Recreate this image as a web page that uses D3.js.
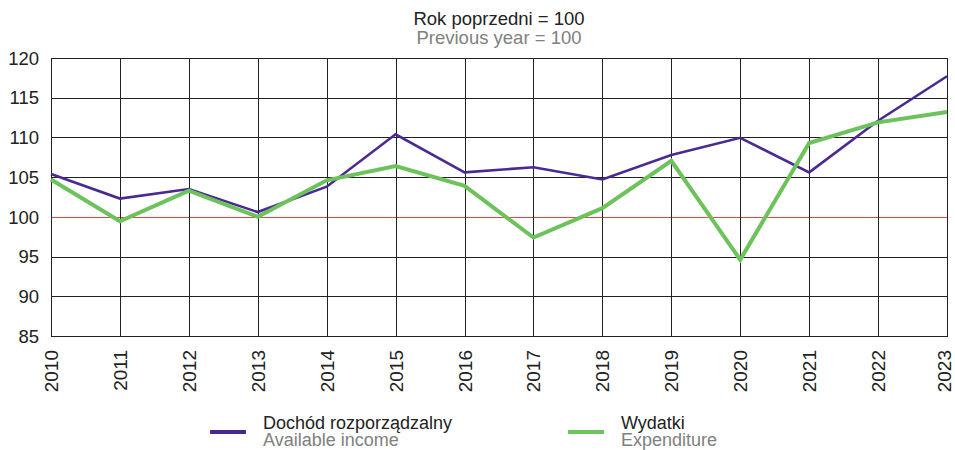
<!DOCTYPE html>
<html><head><meta charset="utf-8">
<script src="https://cdn.jsdelivr.net/npm/d3@7"></script>
<style>body{margin:0;background:#fff}svg{display:block;font-family:"Liberation Sans",Arial,sans-serif}</style>
</head><body><svg id="c" width="955" height="450"></svg>
<script>
const years = [2010,2011,2012,2013,2014,2015,2016,2017,2018,2019,2020,2021,2022,2023];
const income = [105.4,102.3,103.5,100.6,103.8,110.4,105.6,106.25,104.7,107.8,109.95,105.6,112.1,117.7];
const expenditure = [104.7,99.45,103.3,100.0,104.6,106.4,103.9,97.4,101.1,107.05,94.6,109.3,111.9,113.2];
const yTicks = [85,90,95,100,105,110,115,120];
const titlePL = "Rok poprzedni = 100", titleEN = "Previous year = 100";
const legendPL = ["Dochód rozporządzalny","Wydatki"], legendEN = ["Available income","Expenditure"];

const svg = d3.select("#c");
const L=51, R=947, T=58, B=336;
const x = d3.scalePoint().domain(years).range([L,R]);
const y = d3.scaleLinear().domain([85,120]).range([B,T]);

const g = svg.append("g").attr("shape-rendering","crispEdges");
g.selectAll("line.h").data(yTicks).join("line")
  .attr("x1",L).attr("x2",R).attr("y1",d=>Math.round(y(d))+0.5).attr("y2",d=>Math.round(y(d))+0.5)
  .attr("stroke",d=>d===100?"#e8453c":"#222").attr("stroke-width",1);
g.selectAll("line.v").data(years).join("line")
  .attr("x1",d=>Math.round(x(d))+0.5).attr("x2",d=>Math.round(x(d))+0.5).attr("y1",T).attr("y2",B)
  .attr("stroke","#222").attr("stroke-width",1);
g.append("rect").attr("x",L+0.5).attr("y",Math.round(T)+0.5).attr("width",R-L).attr("height",B-T)
  .attr("fill","none").attr("stroke","#222");

svg.selectAll("text.yl").data(yTicks).join("text")
  .attr("x",39).attr("y",d=>y(d)).attr("dy","0.36em").attr("text-anchor","end")
  .attr("font-size",18.5).attr("fill","#222").text(d=>d);
svg.selectAll("text.xl").data(years).join("text")
  .attr("transform",d=>`translate(${Math.min(x(d)+7,951)},350) rotate(-90)`)
  .attr("text-anchor","end").attr("font-size",19).attr("fill","#222").text(d=>d);

const line = d3.line().x((d,i)=>x(years[i])).y(d=>y(d));
svg.append("path").datum(income).attr("d",line).attr("fill","none")
  .attr("stroke","#4a2a92").attr("stroke-width",2.6).attr("stroke-linejoin","miter");
svg.append("path").datum(expenditure).attr("d",line).attr("fill","none")
  .attr("stroke","#6cc25b").attr("stroke-width",4).attr("stroke-linejoin","miter");

svg.append("text").attr("x",499).attr("y",25).attr("text-anchor","middle").attr("font-size",18.5).attr("fill","#222").text(titlePL);
svg.append("text").attr("x",499).attr("y",44).attr("text-anchor","middle").attr("font-size",18.5).attr("fill","#808080").text(titleEN);

const lg = [{x:210,c:"#4a2a92"},{x:568,c:"#6cc25b"}];
lg.forEach((l,i)=>{
  svg.append("line").attr("x1",l.x).attr("x2",l.x+36).attr("y1",432).attr("y2",432).attr("stroke",l.c).attr("stroke-width",4);
  svg.append("text").attr("x",l.x+53).attr("y",429).attr("font-size",18).attr("fill","#222").text(legendPL[i]);
  svg.append("text").attr("x",l.x+53).attr("y",446).attr("font-size",18).attr("fill","#808080").text(legendEN[i]);
});
</script></body></html>
